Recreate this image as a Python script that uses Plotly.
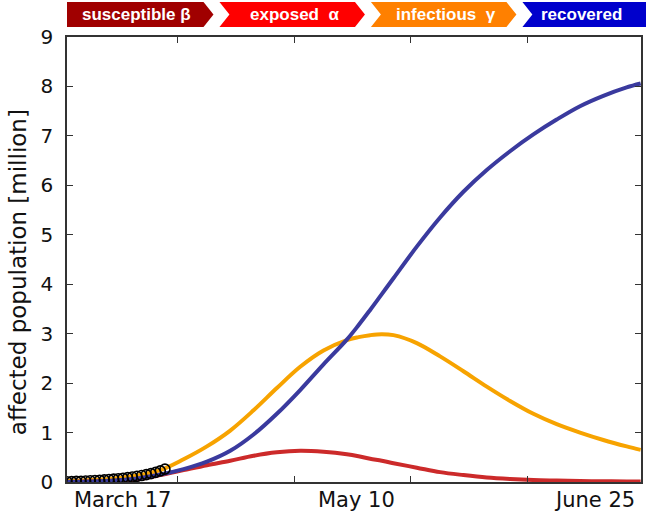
import plotly.graph_objects as go

# ---- data (days since start of record, values in million) ----
days = [0, 5, 10, 15, 20, 25, 30, 35, 40, 45, 50, 55, 60, 62.5, 65, 67.5, 70, 75, 80, 85, 90, 95, 100, 105, 110, 115, 120, 123]
recovered = [0.0, 0.01, 0.03, 0.07, 0.15, 0.26, 0.41, 0.63, 0.96, 1.38, 1.86, 2.38, 2.88, 3.17, 3.48, 3.80, 4.12, 4.76, 5.35, 5.87, 6.31, 6.69, 7.03, 7.33, 7.6, 7.81, 7.98, 8.06]
infectious = [0.02, 0.04, 0.07, 0.13, 0.24, 0.46, 0.72, 1.04, 1.45, 1.90, 2.33, 2.66, 2.87, 2.93, 2.97, 2.99, 2.97, 2.81, 2.54, 2.24, 1.93, 1.64, 1.38, 1.17, 1.00, 0.85, 0.72, 0.65]
exposed = [0.0, 0.01, 0.02, 0.05, 0.14, 0.24, 0.34, 0.43, 0.53, 0.60, 0.63, 0.61, 0.56, 0.52, 0.47, 0.43, 0.38, 0.29, 0.20, 0.14, 0.09, 0.06, 0.04, 0.03, 0.02, 0.015, 0.01, 0.01]

obs_days = list(range(22))
observed = [0.005, 0.008, 0.012, 0.016, 0.02, 0.025, 0.03, 0.036, 0.043, 0.05, 0.058, 0.067,
            0.077, 0.088, 0.10, 0.115, 0.13, 0.15, 0.17, 0.195, 0.225, 0.26]

date_labels = ["March 17", "May 10", "June 25"]
date_label_days = [12, 62, 113.2]

x_tick_days = [23.7, 48.7, 73.7, 98.7]
y_ticks = list(range(10))

banner_labels = ["susceptible β", "exposed  α", "infectious  γ", "recovered"]
banner_colors = ["#a00000", "#ff0000", "#ff8000", "#0000cc"]

# ---- geometry (page pixels) ----
W, H = 646, 519
PL, PR, PT, PB = 67, 643, 37, 482  # plot area in page pixels
PW, PH = PR - PL, PB - PT


def px(x):
    return (x - PL) / PW


def py(y):
    return (PB - y) / PH


fig = go.Figure()
fig.add_trace(go.Scatter(x=days, y=infectious, mode="lines", line=dict(color="#f7a300", width=4, shape="spline"), name="infectious"))
fig.add_trace(go.Scatter(x=days, y=exposed, mode="lines", line=dict(color="#cc2a2a", width=4, shape="spline"), name="exposed"))
fig.add_trace(go.Scatter(x=days, y=recovered, mode="lines", line=dict(color="#3a3a9e", width=4, shape="spline"), name="recovered"))
fig.add_trace(go.Scatter(x=obs_days, y=observed, mode="markers",
                         marker=dict(symbol="circle-open", size=10, color="black", line=dict(width=1.6)),
                         name="data"))

axis_common = dict(showgrid=False, zeroline=False, showline=True, linecolor="#333333", linewidth=1.5,
                   mirror="ticks", ticks="inside", ticklen=6, tickcolor="#333333", tickwidth=1.2)
fig.update_xaxes(range=[0, PW / 4.68], tickvals=x_tick_days, showticklabels=False, **axis_common)
fig.update_yaxes(range=[0, 9], tickvals=y_ticks, ticktext=[str(v) for v in y_ticks],
                 tickfont=dict(family="DejaVu Sans", size=20, color="#111111"),
                 ticklabelstandoff=8, **axis_common)

annotations = []
for lab, d in zip(date_labels, date_label_days):
    annotations.append(dict(x=d, xref="x", y=py(500), yref="paper", text=lab, showarrow=False,
                            font=dict(family="DejaVu Sans", size=21, color="#111111"),
                            xanchor="center", yanchor="middle"))
annotations.append(dict(x=px(18), xref="paper", y=py(272), yref="paper", text="affected population [million]",
                        textangle=-90, showarrow=False, xanchor="center", yanchor="middle",
                        font=dict(family="DejaVu Sans", size=23, color="#111111")))

# banner chevrons
bounds = [67, 217, 369, 521, 652]
top, bot = 2, 27
mid = (top + bot) / 2
d = 10
shapes = []
for i, col in enumerate(banner_colors):
    x0, x1 = bounds[i], bounds[i + 1]
    pts = [(x0 if i == 0 else x0 + 3, top)]
    if i < len(banner_colors) - 1:
        pts += [(x1 - d - 3, top), (x1 - 3, mid), (x1 - d - 3, bot)]
    else:
        pts += [(x1, top), (x1, bot)]
    if i == 0:
        pts += [(x0, bot)]
    else:
        pts += [(x0 + 3, bot), (x0 + 3 + d, mid)]
    path = "M " + " L ".join(f"{px(a):.5f},{py(b):.5f}" for a, b in pts) + " Z"
    shapes.append(dict(type="path", xref="paper", yref="paper", path=path, fillcolor=col, line=dict(width=0), layer="above"))
    cx = (x0 + x1) / 2 + (2 if i else -5)
    if i == len(banner_colors) - 1:
        cx = 583
    annotations.append(dict(x=px(cx), xref="paper", y=py(mid), yref="paper", text=f"<b>{banner_labels[i]}</b>",
                            showarrow=False, xanchor="center", yanchor="middle",
                            font=dict(family="Liberation Sans", size=17, color="white")))

fig.update_layout(width=W, height=H,
                  margin=dict(l=PL, r=W - PR, t=PT, b=H - PB, pad=0),
                  paper_bgcolor="white", plot_bgcolor="white", showlegend=False,
                  shapes=shapes, annotations=annotations)

fig.write_html("out.html", config={"displayModeBar": False},
               post_script="document.body.style.margin='0';")
